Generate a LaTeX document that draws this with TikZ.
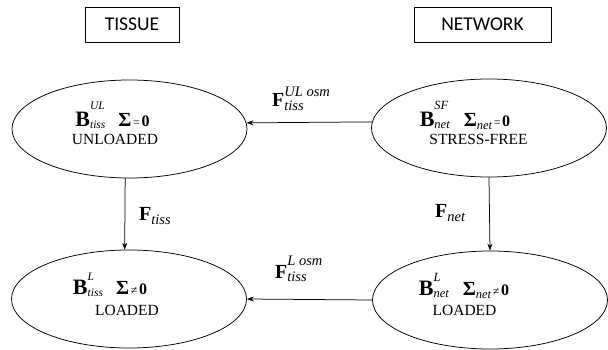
\documentclass[tikz,border=0pt]{standalone}
\usepackage{fontspec}
\setmainfont{Liberation Serif}
\newfontfamily\boxfont{Carlito}
\usetikzlibrary{shapes.geometric,arrows.meta,calc}
% script pair (superscript over subscript) set by hand
\newsavebox\supbox
\newsavebox\subbox
\newlength\scrwd
\newcommand{\scr}[5][11.5]{% [size] #2 sup, #3 sub, #4 raise, #5 drop
  \def\scrfont{\fontsize{#1}{#1}\selectfont\itshape}%
  \sbox\supbox{\scrfont #2}\sbox\subbox{\scrfont #3}%
  \ifdim\wd\supbox>\wd\subbox\setlength\scrwd{\wd\supbox}\else\setlength\scrwd{\wd\subbox}\fi
  \makebox[\scrwd][l]{\rlap{\raisebox{#4}{\usebox\supbox}}\raisebox{-#5}{\usebox\subbox}}}
\newcommand{\bigB}{{\fontsize{22}{24}\selectfont\bfseries B}}
\newcommand{\bigF}{{\fontsize{20}{22}\selectfont\bfseries F}}
\newcommand{\Sig}{{\fontsize{20}{22}\selectfont\bfseries Σ}}
\newcommand{\zero}{{\fontsize{16}{18}\selectfont\bfseries 0}}
\newcommand{\rel}[1]{\,{\fontsize{12}{14}\selectfont #1}\,}
\begin{document}
\begin{tikzpicture}[x=1pt,y=-1pt,
  state/.style={ellipse,draw,line width=0.75pt,minimum width=235pt,minimum height=98pt,inner sep=0pt},
  symline/.style={anchor=base,inner sep=0pt},
  nameline/.style={anchor=base,inner sep=0pt,font=\fontsize{15.5}{18}\selectfont},
  titlebox/.style={draw,line width=0.75pt,minimum height=35pt,inner sep=0pt,
    font=\boxfont\fontsize{19.5}{22}\selectfont},
  flow/.style={line width=0.75pt,-{Stealth[length=7pt,width=5pt]}},
  flowlabel/.style={anchor=base west,inner sep=0pt}]
\useasboundingbox (0,0) rectangle (608,350);
% column titles
\node[titlebox,minimum width=94pt] (tissue) at (132,24.5) {TISSUE};
\node[titlebox,minimum width=137pt] (network) at (482.5,24.5) {NETWORK};
% the four states
\node[state] (tl) at (129.5,129) {};
\node[state] (tr) at (489,128) {};
\node[state] (bl) at (129,299) {};
\node[state] (br) at (490,300) {};
\node[symline] (tl1) at ($(tl.center)+(-17,-2)$) {\bigB\scr{UL}{tiss}{17pt}{2pt}\hspace{13pt}\Sig\rel{=}\zero};
\node[nameline] (tl2) at ($(tl.center)+(-14.5,16)$) {UNLOADED};
\node[symline] (tr1) at ($(tr.center)+(-24,-1)$) {\bigB\scr[12.5]{SF}{net}{17pt}{2pt}\hspace{14pt}\Sig\scr[12.5]{}{net}{0pt}{3pt}\rel{=}\zero};
\node[nameline] (tr2) at ($(tr.center)+(-10.5,17)$) {STRESS-FREE};
\node[symline] (bl1) at ($(bl.center)+(-19,-5)$) {\bigB\scr{L}{tiss}{14pt}{2pt}\hspace{13pt}\Sig\rel{≠}\zero};
\node[nameline] (bl2) at ($(bl.center)+(-2,16)$) {LOADED};
\node[symline] (br1) at ($(br.center)+(-26,-5)$) {\bigB\scr[12.5]{L}{net}{14pt}{2pt}\hspace{14pt}\Sig\scr[12.5]{}{net}{0pt}{3pt}\rel{≠}\zero};
\node[nameline] (br2) at ($(br.center)+(-25.5,15)$) {LOADED};
% deformation gradients between states
\draw[flow] (tr.177) -- (tl.3);
\draw[flow] (br.west) -- (bl.east);
\draw[flow] (tl.265) -- (bl.95);
\draw[flow] (tr.south) -- (br.north);
\node[flowlabel] (fosmul) at (272,107) {\bigF\scr[14.5]{UL osm}{tiss}{10pt}{4pt}};
\node[flowlabel] (fosml) at (275,278) {\bigF\scr[14.5]{L osm}{tiss}{13pt}{3pt}};
\node[flowlabel] (ftiss) at (139,220) {\bigF\scr[14.5]{}{tiss}{0pt}{4pt}};
\node[flowlabel] (fnet) at (435,218) {\bigF\scr[14.5]{}{net}{0pt}{4pt}};
\end{tikzpicture}
\end{document}
